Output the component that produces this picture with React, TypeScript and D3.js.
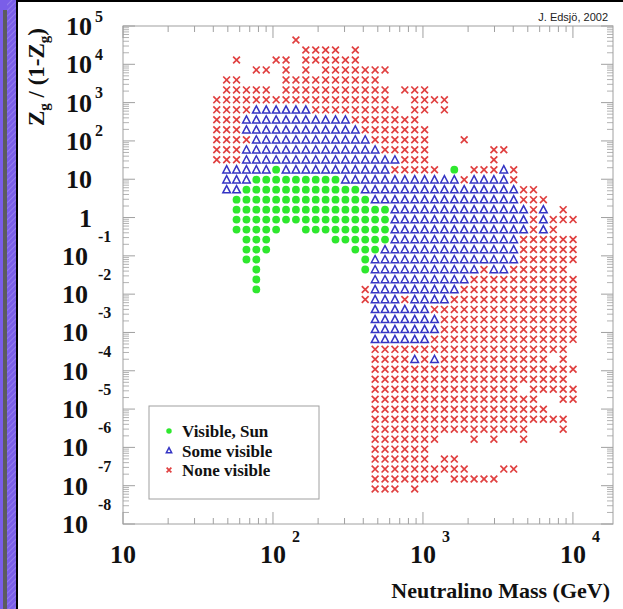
import React from "react";
import * as d3 from "d3";

// grid of scanned points (log10 of neutralino mass, log10 of Zg/(1-Zg))
const massLog = [1.625, 1.691, 1.757, 1.823, 1.889, 1.955, 2.021, 2.087, 2.153, 2.219, 2.285, 2.351, 2.417, 2.483, 2.549, 2.615, 2.681, 2.747, 2.813, 2.879, 2.945, 3.011, 3.077, 3.143, 3.209, 3.275, 3.341, 3.407, 3.473, 3.539, 3.605, 3.671, 3.737, 3.803, 3.869, 3.935, 4.001];
const zLog = [4.635, 4.3745, 4.114, 3.8535, 3.593, 3.3325, 3.072, 2.8115, 2.551, 2.2905, 2.03, 1.7695, 1.509, 1.2485, 0.988, 0.7275, 0.467, 0.2065, -0.054, -0.3145, -0.575, -0.8355, -1.096, -1.3565, -1.617, -1.8775, -2.138, -2.3985, -2.659, -2.9195, -3.18, -3.4405, -3.701, -3.9615, -4.222, -4.4825, -4.743, -5.0035, -5.264, -5.5245, -5.785, -6.0455, -6.306, -6.5665, -6.827, -7.0875];

// per row of zLog: runs of mass-grid columns; g = visible (Sun), b = some visible, r = none visible
const rowRuns = [
  "r8",
  "r9-12 r14",
  "r2 r6-7 r9-14",
  "r4-5 r7 r9 r11-17",
  "r1-2 r7-16",
  "r1-5 r7-17 r19-21",
  "r0-17 r20-23",
  "r0-3 b4-9 r10-18 r20-21 r23",
  "r0-2 b3-13 r14-20",
  "r0-2 b3-14 r15-21",
  "r0-3 b4-15 r16-21 r25",
  "r0-2 b3-16 r17-21 r28-29",
  "r0-2 b3-18 r19-21 r28",
  "b1-5 g6 b7-17 r18-22 g24 r26-28 b29 r30",
  "b1-3 g4-12 b13-24 r25 b26-29 r30",
  "b1-2 g3-14 b15-30 r31-32",
  "g2-15 b16-30 r31-33",
  "g2-17 b18-31 r32 b33 r35",
  "g2-17 b18-31 r32 b33 r34-36",
  "g2-6 g9-17 b18-31 r32 b33 r34",
  "g3-5 g12-17 b18-30 r31-36",
  "g3-5 g14-16 b17-30 r31-36",
  "g3-4 g15 b16-30 r31-36",
  "g4 g15 b16-26 r27 b28-29 r30-35",
  "g4 b16-25 r26-36",
  "g4 r15 b16-24 r25-36",
  "r15 b16-18 r19 b20-23 r24-36",
  "b16-21 r22-36",
  "b16-22 r23-36",
  "b16-22 r23-36",
  "b16-21 r22-36",
  "r16-35",
  "r16-19 b20 r21 b22 r23-33 r35",
  "r16-36",
  "r16-35",
  "r16-30 r32-36",
  "r16-32 r35-36",
  "r16-33",
  "r16-35",
  "r16-31 r35",
  "r16-22 r26 r28 r31",
  "r16-21",
  "r16-21 r23-24",
  "r16-25 r29-30",
  "r16-22 r24-28",
  "r16-18 r20",
];

const legendLabels = ["Visible, Sun", "Some visible", "None visible"];
const legendKeys = ["g", "b", "r"];
const xDecades = [1, 2, 3, 4];
const yDecades = [-8, -7, -6, -5, -4, -3, -2, -1, 0, 1, 2, 3, 4, 5];
const xDomain = [10, 18500];
const yDomain = [1e-8, 1e5];

const W = 623, H = 609;
const L = 123, R = 613, T = 26, B = 524;
const GREEN = "#2ee82e", BLUE = "#3434c4", RED = "#e04040", FRAME = "#a0a0a0";
const SERIF = "'Liberation Serif', 'DejaVu Serif', serif";

type Pt = { x: number; y: number; k: string };

function buildPoints(): Pt[] {
  const pts: Pt[] = [];
  rowRuns.forEach((s, r) => {
    s.split(" ").filter(Boolean).forEach((tok) => {
      const k = tok[0];
      const [a, b] = tok.slice(1).split("-").map(Number);
      const end = b === undefined || isNaN(b) ? a : b;
      for (let c = a; c <= end; c++) pts.push({ x: Math.pow(10, massLog[c]), y: Math.pow(10, zLog[r]), k });
    });
  });
  return pts;
}

function Marker({ k, cx, cy, s }: { k: string; cx: number; cy: number; s: number }) {
  if (k === "g") return <circle cx={cx} cy={cy} r={3.9 * s} fill={GREEN} />;
  if (k === "b") {
    const h = 4.0 * s;
    return (
      <path
        d={`M${cx},${cy - h} L${cx + h * 0.95},${cy + h * 0.8} L${cx - h * 0.95},${cy + h * 0.8} Z`}
        fill="none"
        stroke={BLUE}
        strokeWidth={1.5}
      />
    );
  }
  const h = 3.4 * s;
  return (
    <path
      d={`M${cx - h},${cy - h} L${cx + h},${cy + h} M${cx - h},${cy + h} L${cx + h},${cy - h}`}
      stroke={RED}
      strokeWidth={1.7}
    />
  );
}

export default function App() {
  const x = d3.scaleLog().domain(xDomain).range([L, R]);
  const y = d3.scaleLog().domain(yDomain).range([B, T]);
  const pts = buildPoints();

  const xMinor: number[] = [];
  for (let e = 1; e <= 4; e++) for (let m = 2; m <= 9; m++) {
    const v = m * Math.pow(10, e);
    if (v < xDomain[1]) xMinor.push(v);
  }
  const yMinor: number[] = [];
  for (let e = -8; e < 5; e++) for (let m = 2; m <= 9; m++) yMinor.push(m * Math.pow(10, e));

  return (
    <svg width={W} height={H} style={{ position: "absolute", left: 0, top: 0, background: "#fff" }}>
      <defs>
        <pattern id="hatch" width="4" height="4" patternUnits="userSpaceOnUse" patternTransform="rotate(45)">
          <rect width="4" height="4" fill="#7a5ee8" />
          <line x1="0" y1="0" x2="0" y2="4" stroke="#b6a8f4" strokeWidth="0.8" />
        </pattern>
      </defs>
      <rect x={0} y={0} width={W} height={H} fill="#fff" />
      {/* left decorative strip */}
      <rect x={0} y={0} width={3} height={H} fill="#7a5ee8" />
      <rect x={3} y={0} width={4} height={10} fill="#7a5ee8" />
      <rect x={3} y={10} width={4} height={H - 10} fill="#5c5c5c" />
      <rect x={7} y={0} width={9} height={H} fill="url(#hatch)" />
      <rect x={16} y={0} width={2} height={H} fill="#000" />
      <rect x={16} y={0} width={W - 16} height={2} fill="#000" />

      {/* frame */}
      <rect x={L} y={T} width={R - L} height={B - T} fill="none" stroke={FRAME} strokeWidth={1} />

      {/* x ticks bottom & top */}
      {xDecades.map((e) => {
        const px = x(Math.pow(10, e));
        return (
          <g key={"xM" + e} stroke={FRAME} strokeWidth={1}>
            <line x1={px} x2={px} y1={B} y2={B - 12} />
            <line x1={px} x2={px} y1={T} y2={T + 12} />
          </g>
        );
      })}
      {xMinor.map((v, i) => (
        <g key={"xm" + i} stroke={FRAME} strokeWidth={1}>
          <line x1={x(v)} x2={x(v)} y1={B} y2={B - 6} />
          <line x1={x(v)} x2={x(v)} y1={T} y2={T + 6} />
        </g>
      ))}
      {/* y ticks left & right */}
      {yDecades.map((e) => {
        const py = y(Math.pow(10, e));
        return (
          <g key={"yM" + e} stroke={FRAME} strokeWidth={1}>
            <line x1={L} x2={L + 12} y1={py} y2={py} />
            <line x1={R} x2={R - 12} y1={py} y2={py} />
          </g>
        );
      })}
      {yMinor.map((v, i) => (
        <g key={"ym" + i} stroke={FRAME} strokeWidth={0.8}>
          <line x1={L} x2={L + 6} y1={y(v)} y2={y(v)} />
          <line x1={R} x2={R - 6} y1={y(v)} y2={y(v)} />
        </g>
      ))}

      {/* points */}
      {pts.map((p, i) => (
        <Marker key={i} k={p.k} cx={x(p.x)} cy={y(p.y)} s={1} />
      ))}

      {/* y tick labels */}
      <g fontFamily={SERIF} fontWeight="bold" fill="#111">
        {yDecades.map((e) => {
          const py = y(Math.pow(10, e));
          if (e === 0)
            return (
              <text key={"yl" + e} x={92} y={py + 9} fontSize={26} textAnchor="end">1</text>
            );
          if (e === 1)
            return (
              <text key={"yl" + e} x={92} y={py + 9} fontSize={26} textAnchor="end">10</text>
            );
          if (e > 1)
            return (
              <g key={"yl" + e}>
                <text x={92} y={py + 9} fontSize={26} textAnchor="end">10</text>
                <text x={95} y={py - 4.5} fontSize={16}>{e}</text>
              </g>
            );
          return (
            <g key={"yl" + e}>
              <text x={88} y={py + 9} fontSize={26} textAnchor="end">10</text>
              <text x={98} y={py - 14} fontSize={16}>{"-" + Math.abs(e)}</text>
            </g>
          );
        })}
        {/* x tick labels */}
        {xDecades.map((e) => {
          const px = x(Math.pow(10, e));
          return (
            <g key={"xl" + e}>
              <text x={px} y={563} fontSize={26} textAnchor="middle">10</text>
              {e > 1 && <text x={px + 19} y={542} fontSize={16}>{e}</text>}
            </g>
          );
        })}
        <text x={610} y={598} fontSize={22} textAnchor="end">Neutralino Mass (GeV)</text>
        <text transform="translate(44,28) rotate(-90)" fontSize={23} textAnchor="end">
          Z<tspan fontSize={15} dy={5}>g</tspan>
          <tspan dy={-5}> / (1-Z</tspan>
          <tspan fontSize={15} dy={5}>g</tspan>
          <tspan dy={-5}>)</tspan>
        </text>
      </g>

      <text x={608} y={21} fontSize={11} fontFamily="'Liberation Sans', Arial, sans-serif" textAnchor="end" fill="#222">
        J. Edsjö, 2002
      </text>

      {/* legend */}
      <rect x={149} y={406} width={170} height={93} fill="#fff" stroke={FRAME} strokeWidth={1} />
      {legendLabels.map((lab, i) => {
        const ly = 431 + i * 19.5;
        return (
          <g key={lab}>
            <Marker k={legendKeys[i]} cx={169} cy={ly} s={0.7} />
            <text x={182} y={ly + 6} fontSize={17} fontFamily={SERIF} fontWeight="bold" fill="#111">{lab}</text>
          </g>
        );
      })}
    </svg>
  );
}
